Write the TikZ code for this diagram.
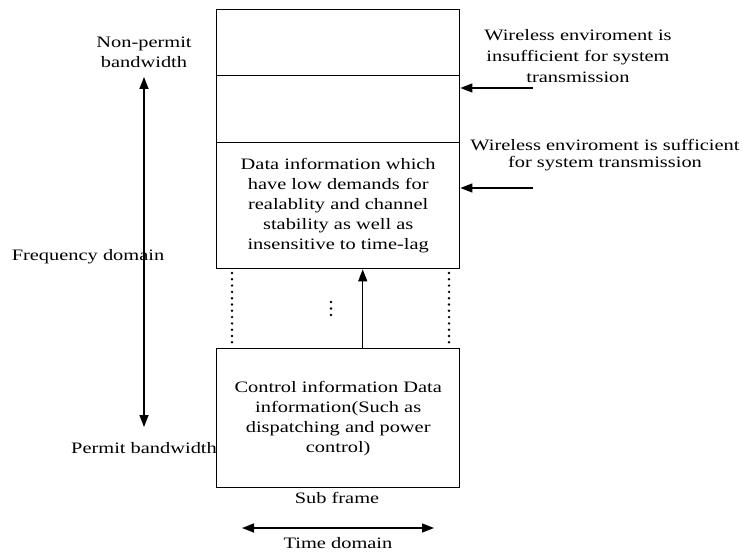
\documentclass[tikz,border=0pt]{standalone}
\usepackage{fontspec}
\setmainfont{Liberation Serif}[FakeStretch=1.28]
\usetikzlibrary{arrows.meta}
\begin{document}
\begin{tikzpicture}[x=1bp,y=-1bp,
  box/.style={draw,line width=1.4bp,minimum width=243bp,inner sep=0pt,anchor=north west},
  lbl/.style={font=\fontsize{16}{20}\selectfont,align=center,inner sep=0pt},
  arr/.style={line width=1.4bp,-{Triangle[length=12bp,width=9bp]}},
  darr/.style={line width=1.4bp,{Triangle[length=12bp,width=9bp]}-{Triangle[length=12bp,width=9bp]}},
  dotline/.style={line width=2.7bp,dash pattern=on 0pt off 6.3bp,line cap=round}]
\useasboundingbox (0,0) rectangle (742,553);
% upper column
\node[box,minimum height=66bp] (top1) at (216,9) {};
\node[box,minimum height=67bp] (top2) at (216,75) {};
\node[box,minimum height=126bp,lbl] (data) at (216,142) {Data information which\\have low demands for\\realablity and channel\\stability as well as\\insensitive to time-lag};
% lower box
\node[box,minimum height=139bp,lbl] (ctrl) at (216,348) {Control information Data\\information(Such as\\dispatching and power\\control)};
% left labels
\node[lbl] (np) at (144,52) {Non-permit\\bandwidth};
\node[lbl] (fd) at (88,257) {Frequency domain};
\node[lbl] (pb) at (144,448) {Permit bandwidth};
\coordinate (fa) at (144,77);
\coordinate (fb) at (144,427);
\draw[darr] (fa) -- (fb);
% right labels
\node[lbl,font=\fontsize{16}{21}\selectfont] (ins) at (578,56) {Wireless enviroment is\\insufficient for system\\transmission};
\node[lbl,font=\fontsize{16}{17.5}\selectfont] (suf) at (605,155) {Wireless enviroment is sufficient\\for system transmission};
\coordinate (w1) at (533,88);
\coordinate (w2) at (533,188);
\draw[arr] (w1) -- (w1 -| top2.east);
\draw[arr] (w2) -- (w2 -| data.east);
% between boxes
\draw[arr] ([xshift=24.5bp]ctrl.north) -- ([xshift=24.5bp]data.south);
\coordinate (d1a) at (232,273); \coordinate (d1b) at (232,344);
\coordinate (d2a) at (449,273); \coordinate (d2b) at (449,344);
\draw[dotline] (d1a) -- (d1b);
\draw[dotline] (d2a) -- (d2b);
\foreach \yy in {302,308.5,315} \fill (331,\yy) circle (1.4bp);
% bottom labels
\node[lbl] (sf) at (337,498) {Sub frame};
\coordinate (ta) at (242,528);
\coordinate (tb) at (434,528);
\draw[darr] (ta) -- (tb);
\node[lbl] (td) at (338,543) {Time domain};
\end{tikzpicture}
\end{document}
